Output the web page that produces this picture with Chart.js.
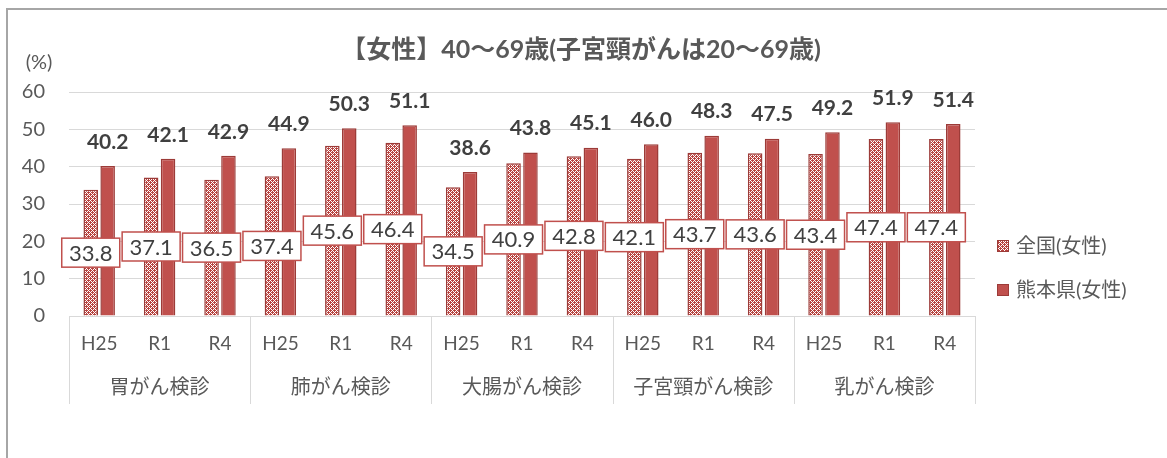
<!DOCTYPE html>
<html lang="ja">
  <head>
    <meta charset="UTF-8" />
    <title>がん検診受診率（女性）</title>
    <script src="https://cdn.jsdelivr.net/npm/chart.js@4.4.1/dist/chart.umd.min.js"></script>
    <style>
      html, body { margin: 0; padding: 0; background: #fff; }
      #wrap { position: relative; width: 1167px; height: 458px; }
    </style>
  </head>
  <body>
    <div id="wrap"><canvas id="screeningChart" width="1167" height="458"></canvas></div>

    <script>
      // データ
      const groups = ['胃がん検診', '肺がん検診', '大腸がん検診', '子宮頸がん検診', '乳がん検診']
      const periods = ['H25', 'R1', 'R4']
      const national = [33.8, 37.1, 36.5, 37.4, 45.6, 46.4, 34.5, 40.9, 42.8, 42.1, 43.7, 43.6, 43.4, 47.4, 47.4]
      const kumamoto = [40.2, 42.1, 42.9, 44.9, 50.3, 51.1, 38.6, 43.8, 45.1, 46.0, 48.3, 47.5, 49.2, 51.9, 51.4]
      const seriesNames = ['全国(女性)', '熊本県(女性)']
      const yTicks = [0, 10, 20, 30, 40, 50, 60]
      const titleText = '【女性】40～69歳(子宮頸がんは20～69歳)'

      const FONT = 'Lato, "Noto Sans CJK JP", sans-serif'
      const RED = '#c0504d'
      const RED_DARK = '#9c3b38'
      const GRAY = '#595959'
      const DARK = '#404040'

      const labels = []
      groups.forEach(() => periods.forEach(p => labels.push(p)))

      // 格子柄（全国）
      function makePattern() {
        const c = document.createElement('canvas')
        c.width = 4
        c.height = 4
        const g = c.getContext('2d')
        g.fillStyle = '#b8433f'
        g.fillRect(0, 0, 4, 4)
        g.fillStyle = '#fff'
        for (let x = 0; x < 4; x++) {
          for (let y = 0; y < 4; y++) {
            if ((x + y) % 4 === 2 || (x - y + 4) % 4 === 2) g.fillRect(x, y, 1, 1)
          }
        }
        return g.createPattern(c, 'repeat')
      }
      const pattern = makePattern()

      const decorations = {
        id: 'decorations',
        beforeDraw(chart) {
          const ctx = chart.ctx
          ctx.save()
          // 外枠
          ctx.strokeStyle = '#a6a6a6'
          ctx.lineWidth = 2
          ctx.beginPath()
          ctx.moveTo(1167, 9)
          ctx.lineTo(7, 9)
          ctx.lineTo(7, 458)
          ctx.stroke()
          ctx.restore()
        },
        afterDraw(chart) {
          const ctx = chart.ctx
          const x = chart.scales.x
          const area = chart.chartArea
          ctx.save()
          // タイトル
          ctx.fillStyle = GRAY
          ctx.font = 'bold 25px ' + FONT
          ctx.textAlign = 'center'
          ctx.textBaseline = 'middle'
          ctx.fillText(titleText, 581, 50)
          // 単位
          ctx.font = '20px ' + FONT
          ctx.fillText('(%)', 39, 63)

          // 区切り線とグループ名
          const step = x.getPixelForValue(1) - x.getPixelForValue(0)
          ctx.strokeStyle = '#d9d9d9'
          ctx.lineWidth = 1
          for (let i = 0; i <= groups.length; i++) {
            const px = Math.round(x.getPixelForValue(i * 3) - step / 2) + 0.5
            ctx.beginPath()
            ctx.moveTo(px, area.bottom)
            ctx.lineTo(px, 404)
            ctx.stroke()
          }
          ctx.fillStyle = GRAY
          ctx.font = '20px ' + FONT
          groups.forEach((g, i) => {
            ctx.fillText(g, x.getPixelForValue(i * 3 + 1), 388)
          })

          // 凡例
          const legendY = [246, 290]
          ;[pattern, RED].forEach((fill, i) => {
            ctx.fillStyle = fill
            ctx.fillRect(997, legendY[i] - 6, 12, 12)
            ctx.strokeStyle = RED_DARK
            ctx.lineWidth = 1
            ctx.strokeRect(997.5, legendY[i] - 5.5, 11, 11)
            ctx.fillStyle = GRAY
            ctx.textAlign = 'left'
            ctx.font = '20px ' + FONT
            ctx.fillText(seriesNames[i], 1016, legendY[i] + 1)
          })
          ctx.restore()
        },
        afterDatasetsDraw(chart) {
          const ctx = chart.ctx
          ctx.save()
          ctx.textAlign = 'center'
          ctx.textBaseline = 'middle'
          // 熊本県：棒の上
          ctx.fillStyle = DARK
          ctx.font = 'bold 21px ' + FONT
          chart.getDatasetMeta(1).data.forEach((bar, i) => {
            ctx.fillText(kumamoto[i].toFixed(1), bar.x, bar.y - 24)
          })
          // 全国：棒の中央に枠付き
          ctx.font = '22px ' + FONT
          chart.getDatasetMeta(0).data.forEach((bar, i) => {
            const cy = (bar.y + bar.base) / 2
            const w = 58
            const h = 29
            ctx.fillStyle = '#fff'
            ctx.fillRect(bar.x - w / 2, cy - h / 2, w, h)
            ctx.strokeStyle = RED
            ctx.lineWidth = 1.5
            ctx.strokeRect(bar.x - w / 2, cy - h / 2, w, h)
            ctx.fillStyle = DARK
            ctx.fillText(national[i].toFixed(1), bar.x, cy + 1)
          })
          ctx.restore()
        }
      }

      new Chart(document.getElementById('screeningChart'), {
        type: 'bar',
        data: {
          labels: labels,
          datasets: [
            {
              label: seriesNames[0],
              data: national,
              backgroundColor: pattern,
              borderColor: RED_DARK,
              borderWidth: 1.5,
              categoryPercentage: 0.56,
              barPercentage: 0.86
            },
            {
              label: seriesNames[1],
              data: kumamoto,
              backgroundColor: RED,
              borderColor: RED_DARK,
              borderWidth: 1.5,
              categoryPercentage: 0.56,
              barPercentage: 0.86
            }
          ]
        },
        options: {
          responsive: false,
          animation: false,
          events: [],
          layout: { padding: { left: 0, top: 92, right: 192, bottom: 0 } },
          plugins: {
            legend: { display: false },
            title: { display: false },
            tooltip: { enabled: false }
          },
          scales: {
            x: {
              afterFit: s => { s.height = 142 },
              grid: { display: false, drawTicks: false },
              border: { display: true, color: '#d9d9d9' },
              ticks: {
                padding: 16,
                color: GRAY,
                font: { family: FONT, size: 19 },
                maxRotation: 0,
                autoSkip: false
              }
            },
            y: {
              min: 0,
              max: 60,
              afterFit: s => { s.width = 69 },
              afterBuildTicks: s => { s.ticks = yTicks.map(v => ({ value: v })) },
              grid: { color: '#d9d9d9', drawTicks: false },
              border: { display: false },
              ticks: {
                padding: 24,
                color: GRAY,
                font: { family: FONT, size: 20 }
              }
            }
          }
        },
        plugins: [decorations]
      })
    </script>
  </body>
</html>
